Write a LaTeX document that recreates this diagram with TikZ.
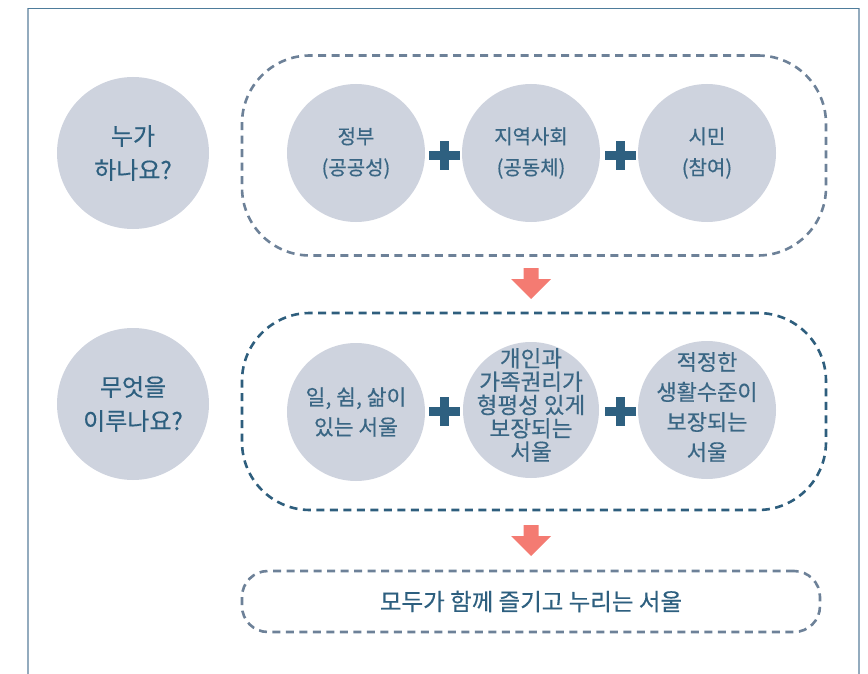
\documentclass[tikz,border=0pt]{standalone}
\usepackage{fontspec}
\setmainfont{Noto Sans CJK KR}[FakeBold=0.35]
\definecolor{cfill}{HTML}{CED3DE}
\definecolor{ctext}{HTML}{2D5F7F}
\definecolor{ctext2}{HTML}{3A6684}
\definecolor{cdash}{HTML}{6D8198}
\definecolor{cdash2}{HTML}{2E5E7D}
\definecolor{carrow}{HTML}{F47B72}
\definecolor{cframe}{HTML}{93ABBE}
\definecolor{cframetop}{HTML}{4E7C9B}
\definecolor{cplus}{HTML}{2E6080}
\begin{document}
\begin{tikzpicture}[x=1pt,y=-1pt,
  qcirc/.style={circle,fill=cfill,minimum size=152pt,inner sep=0pt,text=ctext,align=center,font=\fontsize{24}{34}\selectfont},
  icirc/.style={circle,fill=cfill,minimum size=138pt,inner sep=0pt,text=ctext2,align=center,font=\fontsize{20}{31}\selectfont},
  dbox/.style={rectangle,draw=cdash,line width=2.6pt,dash pattern=on 8pt off 5.5pt,inner sep=0pt},
  plusbar/.style={fill=cplus,draw=none},
  arrowfill/.style={fill=carrow,draw=none}]
\useasboundingbox (0,0) rectangle (868,674);
% frame
\draw[cframe,line width=1.2pt] (28,690) -- (28,8.5) -- (859,8.5) -- (859,690);
\draw[cframetop,line width=1.2pt] (28,8.5) -- (859,8.5);

% dashed group boxes
\node[dbox,rounded corners=68pt,minimum width=584pt,minimum height=200pt] (grp1) at (534,155.5) {};
\node[dbox,draw=cdash2,rounded corners=68pt,minimum width=584pt,minimum height=197pt] (grp2) at (534,411.5) {};
\node[dbox,rounded corners=26pt,minimum width=578pt,minimum height=61pt,text=ctext,font=\fontsize{23.5}{26}\selectfont] (grp3) at (531,601.5) {모두가 함께 즐기고 누리는 서울};

% question circles
\node[qcirc] (q1) at (133,153) {누가\\하나요?};
\node[qcirc] (q2) at (133,404) {무엇을\\이루나요?};

% row 1
\node[icirc] (a1) at (356,153) {정부\\(공공성)};
\node[icirc] (a2) at (531,153) {지역사회\\(공동체)};
\node[icirc] (a3) at (707,153) {시민\\(참여)};

% row 2
\node[icirc,font=\fontsize{21.5}{30}\selectfont] (b1) at (356,412) {일, 쉼, 삶이\\있는 서울};
\node[icirc,minimum size=136pt] (b2) at (531,410) {};
\node[text=ctext2,align=center,font=\fontsize{22.5}{23.3}\selectfont,inner sep=0pt] (b2t) at (531,405) {개인과\\가족권리가\\형평성 있게\\보장되는\\서울};
\node[icirc] (b3) at (707,410) {};
\node[text=ctext2,align=center,font=\fontsize{22}{30}\selectfont,inner sep=0pt] (b3t) at (707,407) {적정한\\생활수준이\\보장되는\\서울};

% plus signs
\foreach \p/\y in {p1/155.5,p2/411.5}{
  \foreach \x/\n in {444.5/l,620/r}{
    \coordinate (\p\n) at (\x,\y);
    \fill[plusbar] ([xshift=-4.5pt,yshift=14.5pt]\p\n) rectangle ([xshift=4.5pt,yshift=-14.5pt]\p\n);
    \fill[plusbar] ([xshift=-15.5pt,yshift=4.5pt]\p\n) rectangle ([xshift=15.5pt,yshift=-4.5pt]\p\n);
  }
}

% block arrows between groups
\coordinate (ar1) at (531,268);
\coordinate (ar2) at (531,525);
\foreach \c in {ar1,ar2}{
  \fill[arrowfill] ([xshift=-7.5pt]\c) -- ([xshift=7.5pt]\c) -- ([xshift=7.5pt,yshift=-11pt]\c) -- ([xshift=20pt,yshift=-11pt]\c) -- ([yshift=-31pt]\c) -- ([xshift=-20pt,yshift=-11pt]\c) -- ([xshift=-7.5pt,yshift=-11pt]\c) -- cycle;
}
\end{tikzpicture}
\end{document}
